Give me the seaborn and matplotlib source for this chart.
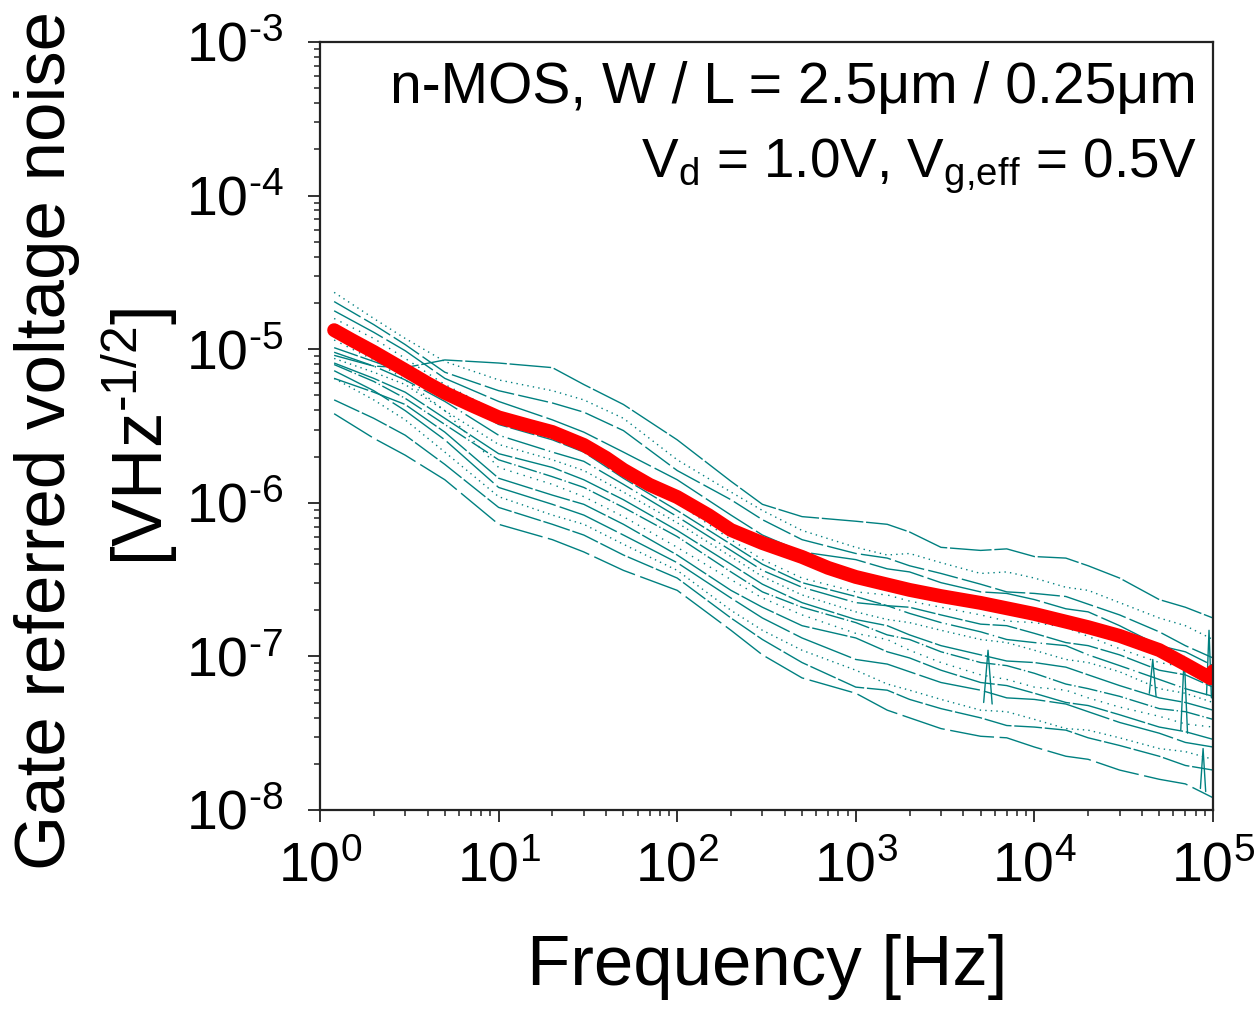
import numpy as np
import pandas as pd
import matplotlib
matplotlib.use("Agg")
import matplotlib.pyplot as plt
import matplotlib.ticker as mticker
import seaborn as sns

# ---------------- data ----------------
freq_hz = [1.2, 2, 3, 5, 10, 20, 30, 50, 100, 200, 300, 500,
           1e3, 1.5e3, 2e3, 3e3, 5e3, 7e3, 1e4, 1.5e4, 2e4, 3e4, 5e4, 7e4, 1e5]

# individual devices: log10 of gate referred noise [V/sqrt(Hz)]
dev01 = [-5.04, -5.11, -5.12, -5.07, -5.09, -5.12, -5.23, -5.36, -5.59, -5.86, -6.01, -6.09, -6.12, -6.14, -6.19, -6.29, -6.31, -6.30, -6.35, -6.36, -6.41, -6.49, -6.63, -6.68, -6.75]
dev02 = [-4.63, -4.80, -4.93, -5.08, -5.20, -5.27, -5.33, -5.45, -5.72, -5.93, -6.05, -6.18, -6.29, -6.34, -6.33, -6.39, -6.46, -6.45, -6.49, -6.55, -6.57, -6.65, -6.75, -6.80, -6.89]
dev03 = [-4.69, -4.84, -4.97, -5.15, -5.27, -5.35, -5.41, -5.53, -5.79, -5.98, -6.11, -6.24, -6.33, -6.36, -6.41, -6.46, -6.53, -6.58, -6.59, -6.61, -6.66, -6.73, -6.84, -6.93, -7.01]
dev04 = [-4.75, -4.89, -5.01, -5.19, -5.34, -5.46, -5.54, -5.67, -5.85, -6.08, -6.21, -6.32, -6.37, -6.43, -6.45, -6.52, -6.58, -6.59, -6.63, -6.69, -6.71, -6.80, -6.93, -6.97, -7.06]
dev05 = [-4.80, -4.93, -5.06, -5.23, -5.41, -5.54, -5.62, -5.79, -6.00, -6.24, -6.37, -6.49, -6.58, -6.60, -6.64, -6.68, -6.73, -6.77, -6.78, -6.81, -6.87, -6.95, -7.04, -7.07, -7.15]
dev06 = [-4.99, -5.08, -5.15, -5.28, -5.49, -5.59, -5.67, -5.84, -6.05, -6.27, -6.40, -6.52, -6.61, -6.67, -6.68, -6.73, -6.79, -6.80, -6.85, -6.91, -6.93, -6.99, -7.09, -7.12, -7.20]
dev07 = [-5.02, -5.11, -5.20, -5.34, -5.56, -5.67, -5.73, -5.88, -6.09, -6.31, -6.44, -6.55, -6.65, -6.67, -6.72, -6.78, -6.84, -6.89, -6.91, -6.93, -6.99, -7.06, -7.15, -7.21, -7.26]
dev08 = [-5.06, -5.15, -5.23, -5.40, -5.62, -5.72, -5.79, -5.93, -6.13, -6.35, -6.48, -6.60, -6.71, -6.76, -6.78, -6.83, -6.89, -6.91, -6.96, -7.02, -7.04, -7.10, -7.21, -7.24, -7.30]
dev09 = [-5.09, -5.19, -5.28, -5.45, -5.68, -5.77, -5.85, -5.98, -6.18, -6.40, -6.53, -6.65, -6.76, -6.80, -6.86, -6.93, -6.99, -7.03, -7.04, -7.07, -7.12, -7.19, -7.27, -7.30, -7.35]
dev10 = [-5.10, -5.21, -5.32, -5.49, -5.72, -5.83, -5.90, -6.03, -6.22, -6.45, -6.58, -6.68, -6.78, -6.86, -6.89, -6.97, -7.04, -7.06, -7.11, -7.18, -7.21, -7.26, -7.34, -7.36, -7.41]
dev11 = [-4.94, -5.07, -5.20, -5.40, -5.77, -5.88, -5.96, -6.09, -6.29, -6.50, -6.62, -6.73, -6.85, -6.89, -6.96, -7.04, -7.12, -7.15, -7.20, -7.22, -7.27, -7.33, -7.39, -7.44, -7.46]
dev12 = [-5.19, -5.28, -5.36, -5.54, -5.84, -5.95, -6.01, -6.14, -6.34, -6.57, -6.68, -6.80, -6.88, -6.97, -7.01, -7.09, -7.17, -7.19, -7.24, -7.30, -7.32, -7.38, -7.46, -7.49, -7.54]
dev13 = [-5.14, -5.27, -5.40, -5.59, -5.90, -6.01, -6.08, -6.21, -6.39, -6.62, -6.75, -6.88, -7.02, -7.05, -7.10, -7.17, -7.22, -7.27, -7.28, -7.31, -7.36, -7.43, -7.50, -7.56, -7.59]
dev14 = [-5.19, -5.33, -5.46, -5.67, -5.96, -6.08, -6.14, -6.27, -6.44, -6.70, -6.83, -6.96, -7.09, -7.18, -7.22, -7.28, -7.35, -7.36, -7.41, -7.47, -7.48, -7.53, -7.60, -7.62, -7.67]
dev15 = [-5.33, -5.45, -5.56, -5.75, -6.03, -6.14, -6.21, -6.34, -6.49, -6.75, -6.89, -7.04, -7.20, -7.22, -7.28, -7.34, -7.40, -7.45, -7.46, -7.48, -7.53, -7.58, -7.65, -7.71, -7.74]
dev16 = [-5.42, -5.58, -5.69, -5.85, -6.14, -6.24, -6.32, -6.44, -6.57, -6.83, -6.99, -7.14, -7.24, -7.35, -7.40, -7.47, -7.52, -7.53, -7.59, -7.65, -7.67, -7.74, -7.80, -7.83, -7.92]

# narrow interference spikes on some devices (frequency, log10 noise)
spike_freqs = [[5.2e3, 5.5e3, 5.8e3], [4.4e4, 4.6e4, 4.8e4], [6.6e4, 6.9e4, 7.2e4],
               [9.2e4, 9.5e4, 9.8e4], [8.5e4, 8.8e4, 9.1e4]]
spike_log10 = [[-7.30, -6.96, -7.31], [-7.24, -7.02, -7.26], [-7.48, -7.00, -7.50],
               [-7.25, -6.83, -7.27], [-7.86, -7.60, -7.88]]

# average noise (red)
mean_freq = [1.2, 1.5, 2, 3, 4, 5, 7, 10, 15, 20, 30, 40, 50, 70, 100, 150, 200, 300,
             500, 700, 1e3, 2e3, 3e3, 5e3, 1e4, 2e4, 3e4, 5e4, 7e4, 9.7e4, 1e5]
mean_noise = [1.33e-5, 1.15e-5, 9.6e-6, 7.3e-6, 6.0e-6, 5.2e-6, 4.33e-6, 3.6e-6, 3.16e-6,
              2.89e-6, 2.38e-6, 1.96e-6, 1.64e-6, 1.31e-6, 1.09e-6, 8.3e-7, 6.65e-7,
              5.47e-7, 4.44e-7, 3.77e-7, 3.29e-7, 2.71e-7, 2.47e-7, 2.23e-7, 1.89e-7,
              1.55e-7, 1.36e-7, 1.10e-7, 8.9e-8, 7.2e-8, 8.0e-8]

x_ticks = [1e0, 1e1, 1e2, 1e3, 1e4, 1e5]
y_ticks = [1e-8, 1e-7, 1e-6, 1e-5, 1e-4, 1e-3]

devices = [dev01, dev02, dev03, dev04, dev05, dev06, dev07, dev08,
           dev09, dev10, dev11, dev12, dev13, dev14, dev15, dev16]

# ---------------- style ----------------
sns.set_style("ticks")
plt.rcParams["font.family"] = ["Liberation Sans", "DejaVu Sans"]
plt.rcParams["mathtext.fontset"] = "custom"
plt.rcParams["mathtext.rm"] = "Liberation Sans"
plt.rcParams["mathtext.it"] = "Liberation Sans:italic"
plt.rcParams["mathtext.bf"] = "Liberation Sans:bold"
for k in ["text.color", "axes.labelcolor", "xtick.color", "ytick.color"]:
    plt.rcParams[k] = "black"

TEAL = "#008080"
RED = "#ff0000"

fig = plt.figure(figsize=(12.6, 10.09), dpi=100)
ax = fig.add_axes([320 / 1260, 1 - 810 / 1009, 893 / 1260, 768 / 1009])

rows = []
for i, vals in enumerate(devices):
    for f, v in zip(freq_hz, vals):
        rows.append((f"d{i:02d}", f, 10.0 ** v))
df = pd.DataFrame(rows, columns=["device", "freq", "noise"])

dash_cycle = [(30, 2), (1, 3), (22, 3), (40, 3), (1, 4), (18, 2),
              (28, 3, 1, 3), (1, 3), (35, 2), (14, 2, 1, 2), (1, 4), (26, 2),
              (45, 3), (1, 3), (20, 2), (32, 4)]

sns.lineplot(data=df, x="freq", y="noise", hue="device", style="device",
             palette=[TEAL] * len(devices), dashes=dash_cycle,
             lw=1.0, estimator=None, sort=False, legend=False, ax=ax)

srows = []
for i, (fs, vs) in enumerate(zip(spike_freqs, spike_log10)):
    for f, v in zip(fs, vs):
        srows.append((f"s{i}", f, 10.0 ** v))
sdf = pd.DataFrame(srows, columns=["spike", "freq", "noise"])
sns.lineplot(data=sdf, x="freq", y="noise", units="spike", color=TEAL, lw=1.0,
             estimator=None, sort=False, legend=False, ax=ax)

mdf = pd.DataFrame({"freq": mean_freq, "noise": mean_noise})
sns.lineplot(data=mdf, x="freq", y="noise", color=RED, lw=10, estimator=None,
             sort=False, legend=False, ax=ax, solid_capstyle="round",
             solid_joinstyle="round")

ax.set_xscale("log")
ax.set_yscale("log")
ax.set_xlim(1, 1e5)
ax.set_ylim(1e-8, 1e-3)
ax.set_xlabel("")
ax.set_ylabel("")

def fmt(v, pos):
    return r"$\mathregular{10^{\text{%d}}}$" % int(round(np.log10(v)))

ax.xaxis.set_major_locator(mticker.FixedLocator(x_ticks))
ax.yaxis.set_major_locator(mticker.FixedLocator(y_ticks))
ax.xaxis.set_major_formatter(mticker.FuncFormatter(fmt))
ax.yaxis.set_major_formatter(mticker.FuncFormatter(fmt))
ax.xaxis.set_minor_locator(mticker.LogLocator(base=10, subs=np.arange(2, 10), numticks=20))
ax.yaxis.set_minor_locator(mticker.LogLocator(base=10, subs=np.arange(2, 10), numticks=20))
ax.xaxis.set_minor_formatter(mticker.NullFormatter())
ax.yaxis.set_minor_formatter(mticker.NullFormatter())

ax.tick_params(axis="both", which="major", direction="out", length=8.5, width=1.3,
               color="#222222", labelsize=40)
ax.tick_params(axis="both", which="minor", direction="out", length=4.5, width=1.1,
               color="#222222")
ax.tick_params(axis="y", which="major", pad=18)
ax.tick_params(axis="x", which="major", pad=14)
for s in ax.spines.values():
    s.set_visible(True)
    s.set_linewidth(1.6)
    s.set_color("#222222")

ax.text(0.982, 0.9206, "n-MOS, W / L = 2.5μm / 0.25μm", transform=ax.transAxes,
        ha="right", va="baseline", fontsize=41)
ax.text(0.982, 0.824, r"V$_{\mathregular{d}}$ = 1.0V, V$_{\mathregular{g{,}eff}}$ = 0.5V",
        transform=ax.transAxes, ha="right", va="baseline", fontsize=39.5)

fig.text(767 / 1260, 1 - 985 / 1009, "Frequency [Hz]", ha="center", va="baseline",
         fontsize=51)
fig.text(47 / 1260, 1 - 440 / 1009, "Gate referred voltage noise", rotation=90,
         ha="center", va="center", fontsize=51)
fig.text(140 / 1260, 1 - 437 / 1009, r"[VHz$^{\mathregular{\text{-1/2}}}$]", rotation=90,
         ha="center", va="center", fontsize=51)

fig.savefig("out.png", dpi=100)
